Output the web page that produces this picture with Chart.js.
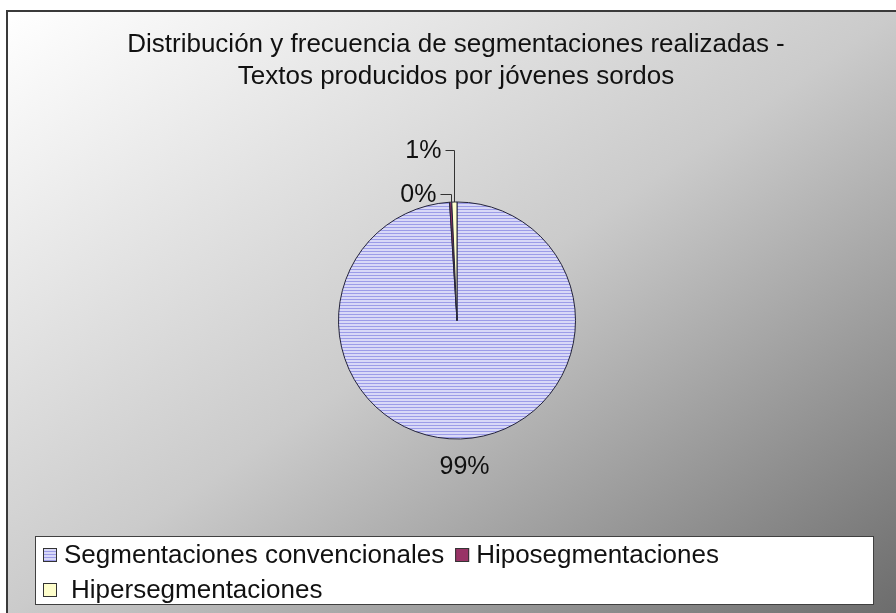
<!DOCTYPE html>
<html>
<head>
<meta charset="utf-8">
<script src="https://cdn.jsdelivr.net/npm/chart.js@4/dist/chart.umd.min.js"></script>
<style>
  html, body { margin: 0; padding: 0; background: #fff; }
  #frame {
    position: absolute; left: 6px; top: 10px; width: 890px; height: 603px;
    border-top: 2px solid #3a3a3a; border-left: 2px solid #3a3a3a;
    background: linear-gradient(to bottom right, #ffffff 0%, #cbcbcb 50%, #6c6c6c 100%);
  }
  #chart { position: absolute; left: 0; top: 0; }
</style>
</head>
<body>
<div id="frame"></div>
<canvas id="chart" width="896" height="613"></canvas>
<script>
const titleLines = ["Distribución y frecuencia de segmentaciones realizadas -", "Textos producidos por jóvenes sordos"];
const categories = ["Segmentaciones convencionales", "Hiposegmentaciones", "Hipersegmentaciones"];
const values = [99.0, 0.3, 0.7];
const colors = ["#9999ff", "#993366", "#ffffcc"];

const FONT = '"Liberation Sans", Arial, sans-serif';

// horizontal line pattern like the old Excel fill
function stripes() {
  const c = document.createElement("canvas");
  c.width = 4; c.height = 3;
  const g = c.getContext("2d");
  g.fillStyle = "#d8d8f7"; g.fillRect(0, 0, 4, 3);
  g.fillStyle = "#9c9ce8"; g.fillRect(0, 2, 4, 1);
  return g.createPattern(c, "repeat");
}

const ctx = document.getElementById("chart").getContext("2d");
const fills = [stripes(), colors[1], colors[2]];

// leader lines for the thin slices: [rise, run], null = plain outside label
const leaders = [null, [8, 11], [52, 9]];

const decor = {
  id: "decor",
  afterDraw(chart) {
    const c = chart.ctx;
    c.save();
    c.fillStyle = "#111";
    c.textBaseline = "middle";

    // title
    c.font = "26px " + FONT;
    c.textAlign = "center";
    titleLines.forEach((t, i) => c.fillText(t, 456, 45 + i * 32));

    // slice labels
    const total = values.reduce((s, v) => s + v, 0);
    const meta = chart.getDatasetMeta(0);
    c.font = "25px " + FONT;
    c.strokeStyle = "#333";
    c.lineWidth = 1;
    meta.data.forEach((arc, i) => {
      const p = arc.getProps(["x", "y", "startAngle", "endAngle", "outerRadius"], true);
      const mid = (p.startAngle + p.endAngle) / 2;
      const ax = p.x + Math.cos(mid) * p.outerRadius;
      const ay = p.y + Math.sin(mid) * p.outerRadius;
      const txt = Math.round(values[i] / total * 100) + "%";
      const ld = leaders[i];
      if (ld) {
        const ex = Math.round(ax) + 0.5, ey = Math.round(ay - ld[0]) + 0.5;
        c.beginPath();
        c.moveTo(ex, Math.round(ay));
        c.lineTo(ex, ey);
        c.lineTo(ex - ld[1], ey);
        c.stroke();
        c.textAlign = "right";
        c.fillText(txt, ex - ld[1] - 4, ey + 1);
      } else {
        c.textAlign = "center";
        c.fillText(txt, ax + Math.cos(mid) * 27 + 3, ay + Math.sin(mid) * 27 + 1);
      }
    });

    // legend box
    c.fillStyle = "#fff";
    c.fillRect(35, 536, 839, 69);
    c.strokeStyle = "#404040";
    c.strokeRect(35.5, 536.5, 838, 68);

    c.font = "26px " + FONT;
    c.textAlign = "left";
    const rows = [[0, 1], [2]];
    rows.forEach((row, r) => {
      const y = 555 + r * 35;
      let x = 43 + (r === 1 ? 0 : 0);
      row.forEach(i => {
        c.fillStyle = fills[i];
        c.fillRect(x, y - 7, 14, 14);
        c.strokeStyle = "#333";
        c.strokeRect(x + 0.5, y - 6.5, 13, 13);
        const tx = x + 21 + (r === 1 ? 7 : 0);
        c.fillStyle = "#111";
        c.fillText(categories[i], tx, y + 1);
        x = tx + c.measureText(categories[i]).width + 11;
      });
    });
    c.restore();
  }
};

new Chart(ctx, {
  type: "pie",
  data: {
    labels: categories,
    datasets: [{
      data: values,
      backgroundColor: fills,
      borderColor: "#23233a",
      borderWidth: 1,
      hoverOffset: 0,
    }],
  },
  options: {
    responsive: false,
    animation: false,
    events: [],
    layout: { padding: { left: 338, right: 320, top: 201, bottom: 173 } },
    plugins: {
      legend: { display: false },
      title: { display: false },
      tooltip: { enabled: false },
    },
  },
  plugins: [decor],
});
</script>
</body>
</html>
